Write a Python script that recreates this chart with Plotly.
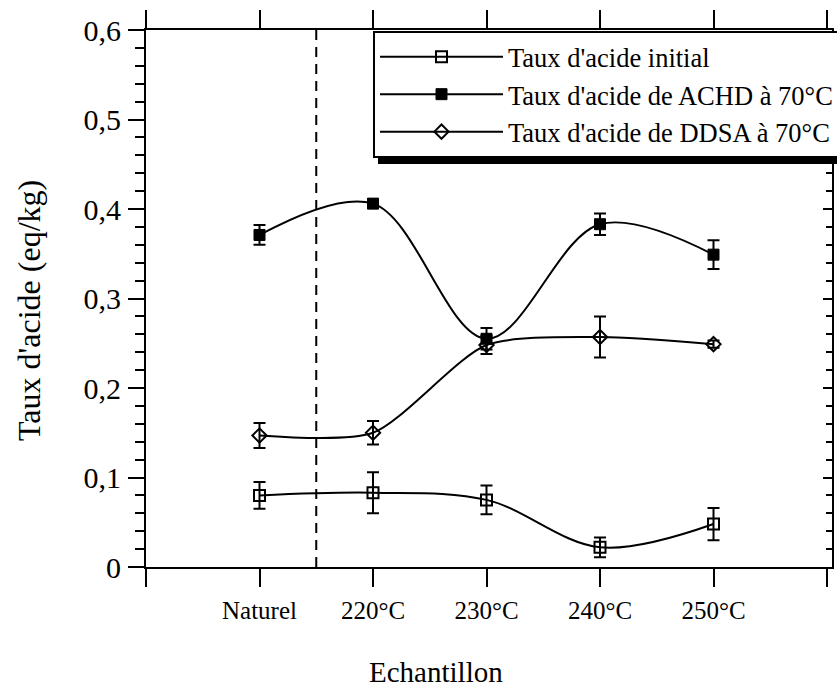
import plotly.graph_objects as go

# Samples along the horizontal axis
categories = ["Naturel", "220°C", "230°C", "240°C", "250°C"]
x_pos = [1, 2, 3, 4, 5]

# Acid content (eq/kg) and standard deviations
initial = [0.080, 0.083, 0.075, 0.022, 0.048]
initial_err = [0.015, 0.023, 0.016, 0.011, 0.018]

achd = [0.371, 0.406, 0.255, 0.383, 0.349]
achd_err = [0.011, 0.005, 0.012, 0.012, 0.016]

ddsa = [0.147, 0.150, 0.248, 0.257, 0.249]
ddsa_err = [0.014, 0.013, 0.010, 0.023, 0.004]

series_names = [
    "Taux d'acide initial",
    "Taux d'acide de ACHD à 70°C",
    "Taux d'acide de DDSA à 70°C",
]

y_tickvals = [0, 0.1, 0.2, 0.3, 0.4, 0.5, 0.6]
y_ticktext = ["0", "0,1", "0,2", "0,3", "0,4", "0,5", "0,6"]
x_tickvals = [0, 1, 2, 3, 4, 5, 6]
x_ticktext = [""] + categories + [""]

FONT = "Liberation Serif"
W, H = 837, 690
ML, MR, MT, MB = 146, 5, 30, 123
PW, PH = W - ML - MR, H - MT - MB


def px_x(p):
    return (p - ML) / PW


def px_y(p):
    return (H - MB - p) / PH


def err(arr):
    return dict(type="data", array=arr, visible=True, color="black",
                thickness=2, width=6)


fig = go.Figure()
styles = [
    (initial, initial_err, 1.0,
     dict(symbol="square-open", size=11, color="black", line=dict(width=2, color="black"))),
    (achd, achd_err, 1.0,
     dict(symbol="square", size=11, color="black", line=dict(width=1, color="black"))),
    (ddsa, ddsa_err, 0.7,
     dict(symbol="diamond-open", size=11, color="black", line=dict(width=2, color="black"))),
]
for name, (vals, errs, smooth, marker) in zip(series_names, styles):
    fig.add_trace(go.Scatter(
        x=x_pos, y=vals, name=name, mode="lines+markers",
        line=dict(color="black", width=2, shape="spline", smoothing=smooth),
        marker=marker, error_y=err(errs),
    ))

# Empty trace that carries the right-hand mirror axis
fig.add_trace(go.Scatter(x=[None], y=[None], yaxis="y2", showlegend=False,
                         hoverinfo="skip", mode="lines"))

fig.update_layout(
    width=W, height=H,
    margin=dict(l=ML, r=MR, t=MT, b=MB, autoexpand=False),
    paper_bgcolor="white", plot_bgcolor="white",
    font=dict(family=FONT, color="black"),
    showlegend=True,
    legend=dict(
        x=px_x(373), y=px_y(31), xanchor="left", yanchor="top",
        bgcolor="white", bordercolor="black", borderwidth=2,
        font=dict(family=FONT, size=26.5, color="black"),
        itemwidth=123, tracegroupgap=0,
    ),
    xaxis=dict(
        range=[0, 6.044], tickmode="array", tickvals=x_tickvals, ticktext=x_ticktext,
        ticks="outside", ticklen=18, tickwidth=2, tickcolor="black",
        showline=True, linewidth=2, linecolor="black", mirror="allticks",
        showgrid=False, zeroline=False,
        tickfont=dict(family=FONT, size=25, color="black"), ticklabelstandoff=2,
    ),
    yaxis=dict(
        range=[0, 0.6], tickmode="array", tickvals=y_tickvals, ticktext=y_ticktext,
        ticks="outside", ticklen=16, tickwidth=2, tickcolor="black",
        minor=dict(ticks="outside", ticklen=9, tickwidth=2, tickcolor="black",
                   tickmode="linear", tick0=0, dtick=0.02, showgrid=False),
        showline=True, linewidth=2, linecolor="black", mirror=False,
        showgrid=False, zeroline=False,
        tickfont=dict(family=FONT, size=30, color="black"), ticklabelstandoff=1,
    ),
    yaxis2=dict(
        overlaying="y", side="right", anchor="x", range=[0, 0.6],
        tickmode="array", tickvals=y_tickvals, showticklabels=False,
        ticks="inside", ticklen=9, tickwidth=2, tickcolor="black",
        minor=dict(ticks="inside", ticklen=6, tickwidth=2, tickcolor="black",
                   tickmode="linear", tick0=0, dtick=0.02, showgrid=False),
        showline=True, linewidth=2, linecolor="black",
        showgrid=False, zeroline=False,
    ),
)

# Separation between the untreated sample and the heat-treated ones
fig.add_shape(type="line", xref="x", yref="y", x0=1.5, x1=1.5, y0=0, y1=0.6,
              line=dict(color="black", width=2, dash="10px,7px"), layer="below")

# Drop shadow behind the legend box
fig.add_shape(type="rect", xref="paper", yref="paper",
              x0=px_x(378), x1=1.2, y0=px_y(164), y1=px_y(40),
              fillcolor="black", line=dict(width=0), layer="above")

fig.add_annotation(text="Echantillon", xref="paper", yref="paper",
                   x=px_x(436), y=px_y(672), xanchor="center", yanchor="middle",
                   showarrow=False, font=dict(family=FONT, size=29, color="black"))
fig.add_annotation(text="Taux d'acide (eq/kg)", xref="paper", yref="paper",
                   x=px_x(29), y=px_y(310), xanchor="center", yanchor="middle",
                   textangle=-90, showarrow=False,
                   font=dict(family=FONT, size=32, color="black"))

fig.write_html("out.html")
